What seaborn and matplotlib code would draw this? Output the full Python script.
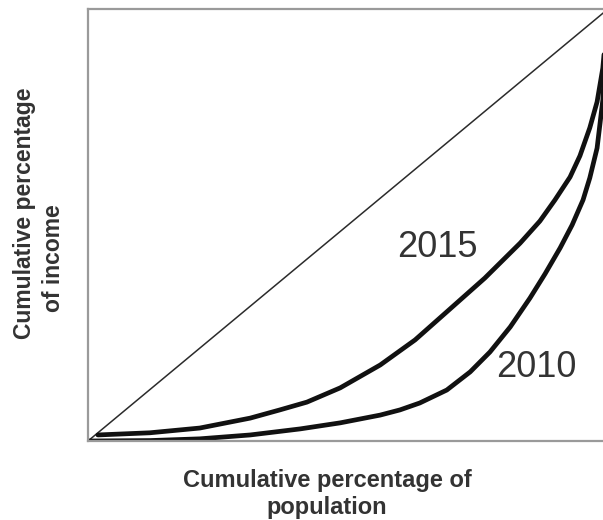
import matplotlib
matplotlib.use("Agg")
import matplotlib.pyplot as plt
import seaborn as sns
import pandas as pd

# Lorenz-curve data (cumulative % population vs cumulative % income)
x_2015 = [1.9, 11.9, 21.5, 31.2, 36.9, 42.1, 48.5, 56.2, 62.9, 69.0, 76.3, 83.1, 86.9, 89.8, 92.7, 94.6, 96.5, 97.9, 99.0, 100]
y_2015 = [1.4, 1.9, 3.0, 5.3, 7.2, 9.0, 12.3, 17.6, 23.4, 29.9, 37.7, 45.8, 50.9, 55.8, 61.1, 66.0, 72.5, 78.5, 86.3, 100]

x_2010 = [0, 11.9, 21.5, 31.2, 40.8, 48.5, 56.2, 60.0, 63.8, 69.0, 73.5, 77.3, 81.2, 85.0, 87.9, 90.8, 93.1, 95.2, 96.5, 97.9, 99.0, 100]
y_2010 = [0, 0.1, 0.5, 1.4, 2.8, 4.2, 6.0, 7.2, 8.8, 11.8, 16.0, 20.6, 26.4, 33.1, 38.7, 44.7, 50.0, 55.8, 60.9, 67.8, 78.9, 100]

x_equal = [0, 100]
y_equal = [0, 100]

labels = ["2015", "2010"]
xlabel_lines = ["Cumulative percentage of", "population"]
ylabel_lines = ["Cumulative percentage", "of income"]

sns.set_style("white")
plt.rcParams['font.family'] = ['Liberation Sans', 'DejaVu Sans']

fig = plt.figure(figsize=(6.03, 5.2), dpi=100)
ax = fig.add_axes([88/603, 79/520, 520/603, 432/520])

df15 = pd.DataFrame({"x": x_2015, "y": y_2015})
df10 = pd.DataFrame({"x": x_2010, "y": y_2010})
dfeq = pd.DataFrame({"x": x_equal, "y": y_equal})

sns.lineplot(data=dfeq, x="x", y="y", ax=ax, color="#2b2b2b", linewidth=1.1, sort=False)
sns.lineplot(data=df15, x="x", y="y", ax=ax, color="#111111", linewidth=3.4, sort=False)
sns.lineplot(data=df10, x="x", y="y", ax=ax, color="#111111", linewidth=3.4, sort=False)
for ln in ax.lines:
    ln.set_solid_joinstyle("round")
    ln.set_solid_capstyle("round")

ax.set_xlim(0, 100)
ax.set_ylim(0, 100)
ax.set_xticks([])
ax.set_yticks([])
ax.set_xlabel("")
ax.set_ylabel("")
for s in ax.spines.values():
    s.set_color("#9a9a9a")
    s.set_linewidth(1.6)

ax.text(67.1, 44.9, labels[0], fontsize=26, color="#333333", ha="center", va="center")
ax.text(86.3, 16.9, labels[1], fontsize=26, color="#333333", ha="center", va="center")

fig.text(327/603, (520-487)/520, xlabel_lines[0], fontsize=17, fontweight="bold",
         color="#333333", ha="center", va="baseline")
fig.text(327/603, (520-514)/520, xlabel_lines[1], fontsize=17, fontweight="bold",
         color="#333333", ha="center", va="baseline")

fig.text(25/603, (520-213)/520, ylabel_lines[0], fontsize=16.5, fontweight="bold",
         color="#333333", ha="center", va="center", rotation=90)
fig.text(53/603, (520-258)/520, ylabel_lines[1], fontsize=16.5, fontweight="bold",
         color="#333333", ha="center", va="center", rotation=90)

fig.savefig("out.png", dpi=100)
